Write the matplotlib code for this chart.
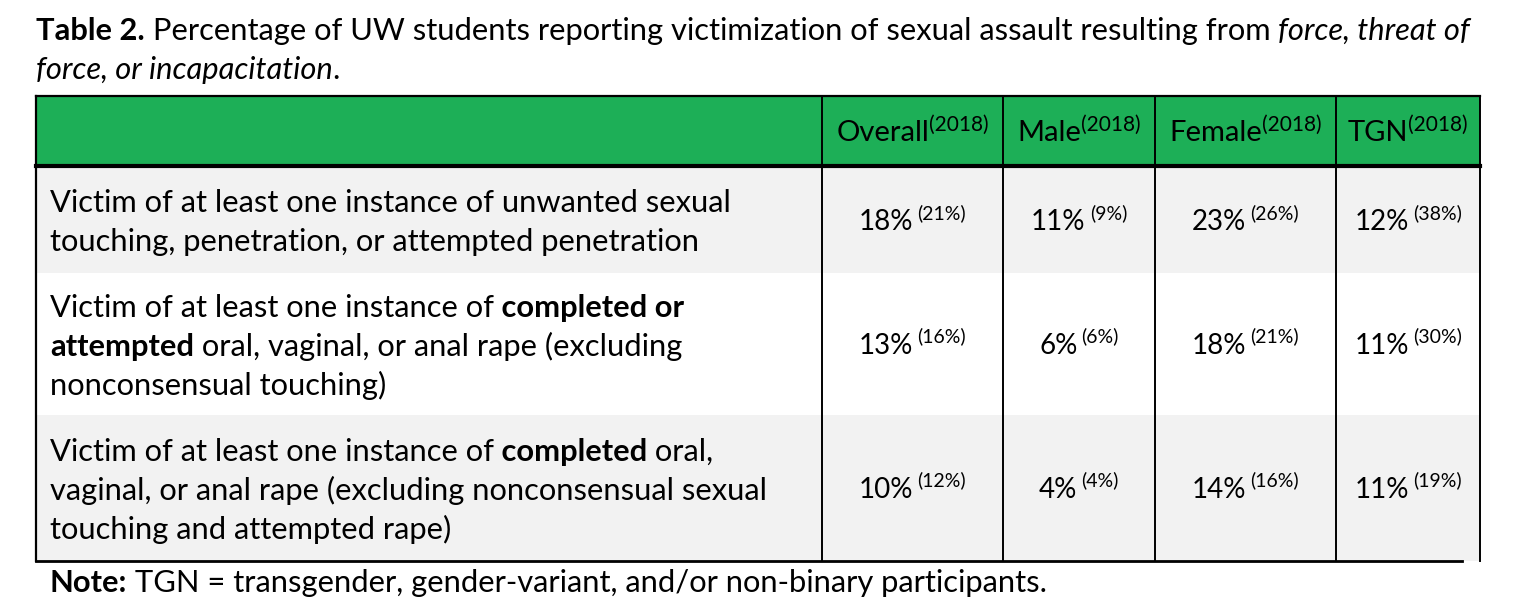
import matplotlib.pyplot as plt
from matplotlib.patches import Rectangle

plt.rcParams['font.family'] = ['Lato', 'DejaVu Sans']

# Table content
title_runs = [
    [("Table 2.", "bold", "normal"),
     (" Percentage of UW students reporting victimization of sexual assault resulting from ", "normal", "normal"),
     ("force, threat of", "normal", "italic")],
    [("force, or incapacitation", "normal", "italic"), (".", "normal", "normal")],
]
columns = ["Overall", "Male", "Female", "TGN"]
header_year = "(2018)"

row_labels = [
    [[("Victim of at least one instance of unwanted sexual", "normal", "normal")],
     [("touching, penetration, or attempted penetration", "normal", "normal")]],
    [[("Victim of at least one instance of", "normal", "normal"), (" completed or", "bold", "normal")],
     [("attempted", "bold", "normal"), (" oral, vaginal, or anal rape (excluding", "normal", "normal")],
     [("nonconsensual touching)", "normal", "normal")]],
    [[("Victim of at least one instance of", "normal", "normal"), (" completed", "bold", "normal"),
      (" oral,", "normal", "normal")],
     [("vaginal, or anal rape (excluding nonconsensual sexual", "normal", "normal")],
     [("touching and attempted rape)", "normal", "normal")]],
]

# percentages: 2018 value and earlier value (in parentheses)
overall = [18, 13, 10]
overall_prev = [21, 16, 12]
male = [11, 6, 4]
male_prev = [9, 6, 4]
female = [23, 18, 14]
female_prev = [26, 21, 16]
tgn = [12, 11, 11]
tgn_prev = [38, 30, 19]

note_runs = [("Note:", "bold", "normal"),
             (" TGN = transgender, gender-variant, and/or non-binary participants.", "normal", "normal")]

values = [overall, male, female, tgn]
values_prev = [overall_prev, male_prev, female_prev, tgn_prev]

# layout (pixels)
W, H = 1520, 610
left, right = 36, 1480
col_edges = [822, 1003, 1155, 1336, 1480]
top, head_bot = 96, 166
row_edges = [168, 273, 415, 561]
label_base = [[212, 251], [317, 356, 395], [461, 500, 539]]
FS = 22.2    # title, labels, note
FS_HEAD = 21
FS_NUM = 20
SUP = 14
green = "#1DAF57"
gray = "#F2F2F2"

fig = plt.figure(figsize=(W / 100, H / 100), dpi=100)
ax = fig.add_axes([0, 0, 1, 1])
ax.set_xlim(0, W)
ax.set_ylim(H, 0)
ax.axis("off")


def draw_runs(x, y, runs, size=FS):
    prev = None
    for txt, weight, style in runs:
        if prev is None:
            prev = ax.text(x, y, txt, fontsize=size, weight=weight, style=style,
                           ha="left", va="baseline")
        else:
            prev = ax.annotate(txt, xy=(1, 0), xycoords=prev, fontsize=size,
                               weight=weight, style=style, ha="left", va="bottom")
    return prev


# title
draw_runs(36, 40, title_runs[0])
draw_runs(36, 79, title_runs[1])

# backgrounds
ax.add_patch(Rectangle((left, top), right - left, head_bot - top, color=green, lw=0))
for i in (0, 2):
    ax.add_patch(Rectangle((left, row_edges[i]), right - left, row_edges[i + 1] - row_edges[i],
                           color=gray, lw=0))

# lines
ax.plot([left, right], [top, top], color="black", lw=1.6)
ax.plot([left, right], [head_bot, head_bot], color="black", lw=3.0)
ax.plot([left, 1462], [row_edges[-1], row_edges[-1]], color="black", lw=2.0)
ax.plot([left, left], [top, row_edges[-1]], color="black", lw=1.6)
for x in col_edges:
    ax.plot([x, x], [top, row_edges[-1]], color="black", lw=1.4)

# header + cells
pairs = []
for j, name in enumerate(columns):
    cx = (col_edges[j] + col_edges[j + 1]) / 2
    t = ax.text(cx, 141, name, fontsize=FS_HEAD, ha="center", va="baseline")
    s = ax.annotate(header_year, xy=(1, 1), xycoords=t, xytext=(0, 4),
                    textcoords="offset points", fontsize=SUP + 1, ha="left", va="top")
    pairs.append((t, s, cx, 0))
    for i in range(3):
        cy = (row_edges[i] + row_edges[i + 1]) / 2
        t = ax.text(cx, cy + 10, f"{values[j][i]}%", fontsize=FS_NUM, ha="center", va="baseline")
        s = ax.annotate(f"({values_prev[j][i]}%)", xy=(1, 1), xycoords=t, xytext=(3, 4),
                        textcoords="offset points", fontsize=SUP, ha="left", va="top")
        pairs.append((t, s, cx, 3))

for i, row in enumerate(row_labels):
    for k, line in enumerate(row):
        draw_runs(50, label_base[i][k], line)

draw_runs(50, 592, note_runs)

# centre each value together with its superscript
fig.canvas.draw()
r = fig.canvas.get_renderer()
for t, s, cx, off in pairs:
    w = s.get_window_extent(r).width + off * 100 / 72
    t.set_x(cx - w / 2)

fig.savefig("out.png", dpi=100)
